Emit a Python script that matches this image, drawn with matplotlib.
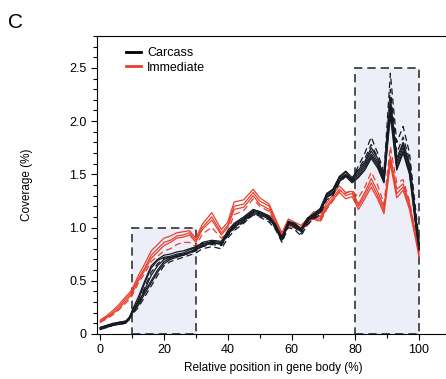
import numpy as np
import matplotlib.pyplot as plt
from matplotlib.patches import Rectangle
from matplotlib.ticker import MultipleLocator

plt.rcParams['font.family'] = ['Liberation Sans', 'DejaVu Sans']

# positions along gene body (%)
pos = [0, 2, 4, 6, 8, 9, 10, 12, 14, 16, 18, 20, 22, 24, 26, 28, 30, 32, 35, 38,
       40, 42, 45, 48, 50, 53, 55, 57, 59, 61, 63, 65, 67, 69, 71, 73, 75, 77, 79,
       81, 83, 85, 87, 89, 91, 93, 95, 97, 99, 100]

# Carcass replicates (solid)
carcass_1 = [0.05, 0.07, 0.09, 0.10, 0.11, 0.14, 0.20, 0.32, 0.48, 0.62, 0.69, 0.72, 0.73, 0.75, 0.76, 0.79, 0.81, 0.86, 0.88, 0.87,
             0.97, 1.04, 1.10, 1.17, 1.15, 1.11, 1.03, 0.90, 1.06, 1.04, 0.99, 1.09, 1.13, 1.18, 1.31, 1.36, 1.47, 1.52, 1.45,
             1.52, 1.60, 1.72, 1.62, 1.46, 2.18, 1.62, 1.78, 1.58, 1.08, 0.84]
carcass_2 = [0.06, 0.08, 0.09, 0.11, 0.12, 0.15, 0.19, 0.28, 0.42, 0.55, 0.64, 0.70, 0.72, 0.73, 0.74, 0.77, 0.79, 0.83, 0.85, 0.85,
             0.94, 1.01, 1.07, 1.14, 1.13, 1.09, 1.01, 0.89, 1.04, 1.02, 0.97, 1.07, 1.11, 1.15, 1.29, 1.33, 1.44, 1.49, 1.43,
             1.48, 1.56, 1.67, 1.58, 1.43, 2.10, 1.56, 1.72, 1.52, 1.02, 0.80]
carcass_3 = [0.04, 0.06, 0.08, 0.09, 0.10, 0.13, 0.21, 0.30, 0.40, 0.50, 0.60, 0.68, 0.71, 0.74, 0.75, 0.77, 0.80, 0.84, 0.87, 0.86,
             0.95, 1.02, 1.09, 1.16, 1.15, 1.10, 1.02, 0.91, 1.05, 1.03, 0.98, 1.08, 1.12, 1.16, 1.30, 1.35, 1.46, 1.50, 1.44,
             1.50, 1.58, 1.69, 1.60, 1.44, 2.13, 1.59, 1.75, 1.55, 1.05, 0.82]
carcass_4 = [0.05, 0.07, 0.08, 0.10, 0.11, 0.14, 0.22, 0.35, 0.50, 0.64, 0.70, 0.74, 0.75, 0.77, 0.78, 0.80, 0.82, 0.85, 0.86, 0.84,
             0.93, 1.00, 1.06, 1.13, 1.12, 1.08, 1.00, 0.88, 1.03, 1.01, 0.96, 1.06, 1.10, 1.14, 1.28, 1.32, 1.43, 1.48, 1.42,
             1.47, 1.54, 1.65, 1.56, 1.42, 2.05, 1.54, 1.70, 1.50, 1.00, 0.79]
carcass_5 = [0.06, 0.08, 0.10, 0.11, 0.12, 0.15, 0.20, 0.27, 0.38, 0.48, 0.58, 0.66, 0.70, 0.72, 0.74, 0.76, 0.79, 0.82, 0.86, 0.85,
             0.94, 1.03, 1.08, 1.15, 1.14, 1.10, 1.02, 0.90, 1.05, 1.03, 0.98, 1.08, 1.12, 1.17, 1.32, 1.36, 1.48, 1.53, 1.47,
             1.54, 1.62, 1.75, 1.65, 1.48, 2.22, 1.65, 1.80, 1.60, 1.10, 0.86]
# Carcass replicates (dashed)
carcass_6 = [0.05, 0.06, 0.08, 0.09, 0.10, 0.13, 0.18, 0.25, 0.35, 0.45, 0.55, 0.64, 0.68, 0.70, 0.72, 0.74, 0.76, 0.80, 0.82, 0.80,
             0.90, 0.97, 1.04, 1.12, 1.10, 1.05, 0.98, 0.86, 1.00, 0.98, 0.92, 1.03, 1.08, 1.12, 1.26, 1.30, 1.42, 1.48, 1.45,
             1.58, 1.70, 1.85, 1.70, 1.52, 2.45, 1.80, 1.95, 1.70, 1.15, 0.88]
carcass_7 = [0.06, 0.07, 0.09, 0.10, 0.11, 0.14, 0.19, 0.29, 0.44, 0.58, 0.66, 0.71, 0.72, 0.73, 0.74, 0.76, 0.78, 0.82, 0.84, 0.83,
             0.92, 0.99, 1.05, 1.12, 1.11, 1.07, 0.99, 0.87, 1.02, 1.00, 0.94, 1.05, 1.09, 1.14, 1.28, 1.33, 1.45, 1.50, 1.46,
             1.55, 1.65, 1.78, 1.66, 1.50, 2.30, 1.70, 1.85, 1.64, 1.10, 0.84]

# Immediate replicates
immediate_1 = [0.12, 0.16, 0.20, 0.26, 0.33, 0.36, 0.40, 0.52, 0.62, 0.74, 0.80, 0.86, 0.88, 0.92, 0.93, 0.95, 0.88, 1.00, 1.10, 0.95,
               1.02, 1.20, 1.22, 1.33, 1.25, 1.20, 1.06, 0.93, 1.05, 1.02, 1.00, 1.05, 1.12, 1.08, 1.20, 1.28, 1.36, 1.30, 1.32,
               1.20, 1.30, 1.42, 1.30, 1.16, 1.64, 1.32, 1.38, 1.20, 0.90, 0.74]
immediate_2 = [0.13, 0.17, 0.22, 0.28, 0.35, 0.38, 0.42, 0.55, 0.66, 0.78, 0.84, 0.90, 0.92, 0.95, 0.96, 0.97, 0.90, 1.03, 1.14, 0.98,
               1.05, 1.24, 1.26, 1.36, 1.28, 1.22, 1.08, 0.95, 1.08, 1.05, 1.02, 1.08, 1.15, 1.10, 1.23, 1.31, 1.39, 1.33, 1.34,
               1.22, 1.33, 1.46, 1.34, 1.19, 1.67, 1.36, 1.41, 1.23, 0.92, 0.76]
immediate_3 = [0.11, 0.15, 0.19, 0.24, 0.31, 0.34, 0.38, 0.50, 0.60, 0.71, 0.77, 0.83, 0.86, 0.90, 0.91, 0.93, 0.86, 0.98, 1.07, 0.93,
               1.00, 1.17, 1.19, 1.30, 1.22, 1.17, 1.04, 0.91, 1.03, 1.00, 0.98, 1.03, 1.10, 1.06, 1.18, 1.26, 1.33, 1.27, 1.29,
               1.17, 1.27, 1.38, 1.27, 1.13, 1.60, 1.28, 1.35, 1.17, 0.88, 0.72]
immediate_4 = [0.11, 0.14, 0.18, 0.23, 0.29, 0.32, 0.36, 0.48, 0.57, 0.68, 0.73, 0.78, 0.80, 0.84, 0.86, 0.86, 0.82, 0.94, 1.00, 0.90,
               0.96, 1.12, 1.16, 1.27, 1.20, 1.15, 1.02, 0.90, 1.02, 0.99, 0.97, 1.02, 1.08, 1.05, 1.17, 1.25, 1.34, 1.32, 1.35,
               1.28, 1.38, 1.52, 1.40, 1.22, 1.76, 1.42, 1.45, 1.25, 0.94, 0.76]

black = '#161a22'
red = '#e8402f'

fig = plt.figure(figsize=(4.46, 3.79), dpi=100)
ax = fig.add_axes([0.2175, 0.119, 0.79, 0.786])

# shaded regions
for x0, x1, top in [(10, 30, 1.0), (80, 100, 2.5)]:
    ax.add_patch(Rectangle((x0, 0), x1 - x0, top, facecolor='#eceef8',
                           edgecolor='#333333', linestyle=(0, (5, 3)), lw=1.2, zorder=1))

for ys in [immediate_1, immediate_2, immediate_3]:
    ax.plot(pos, ys, color=red, lw=0.9, zorder=2)
ax.plot(pos, immediate_4, color=red, lw=0.9, ls=(0, (5, 3)), zorder=2)

for ys in [carcass_1, carcass_2, carcass_3, carcass_4, carcass_5]:
    ax.plot(pos, ys, color=black, lw=0.9, zorder=3)
for ys in [carcass_6, carcass_7]:
    ax.plot(pos, ys, color=black, lw=0.9, ls=(0, (5, 3)), zorder=3)

ax.plot([], [], color='black', lw=2, label='Carcass')
ax.plot([], [], color=red, lw=2, label='Immediate')
ax.legend(loc='upper left', bbox_to_anchor=(0.05, 1.0), frameon=False, fontsize=9,
          handlelength=1.2, handletextpad=0.5, labelspacing=0.2)

ax.set_xlim(-1, 109.5)
ax.set_ylim(0, 2.8)
ax.set_xticks([0, 20, 40, 60, 80, 100])
ax.xaxis.set_minor_locator(MultipleLocator(10))
ax.set_yticks([0, 0.5, 1.0, 1.5, 2.0, 2.5])
ax.set_yticklabels(['0', '0.5', '1.0', '1.5', '2.0', '2.5'])
ax.yaxis.set_minor_locator(MultipleLocator(0.1))
ax.tick_params(labelsize=9, length=4, width=0.8)
ax.tick_params(which='minor', length=3, width=0.8)
ax.spines['right'].set_visible(False)
for s in ['left', 'bottom', 'top']:
    ax.spines[s].set_linewidth(0.8)

ax.set_xlabel('Relative position in gene body (%)', fontsize=8.5)
ax.set_ylabel('Coverage (%)', fontsize=8.5, labelpad=26)

fig.text(0.018, 0.925, 'C', fontsize=15)

fig.savefig('out.png', dpi=100)
